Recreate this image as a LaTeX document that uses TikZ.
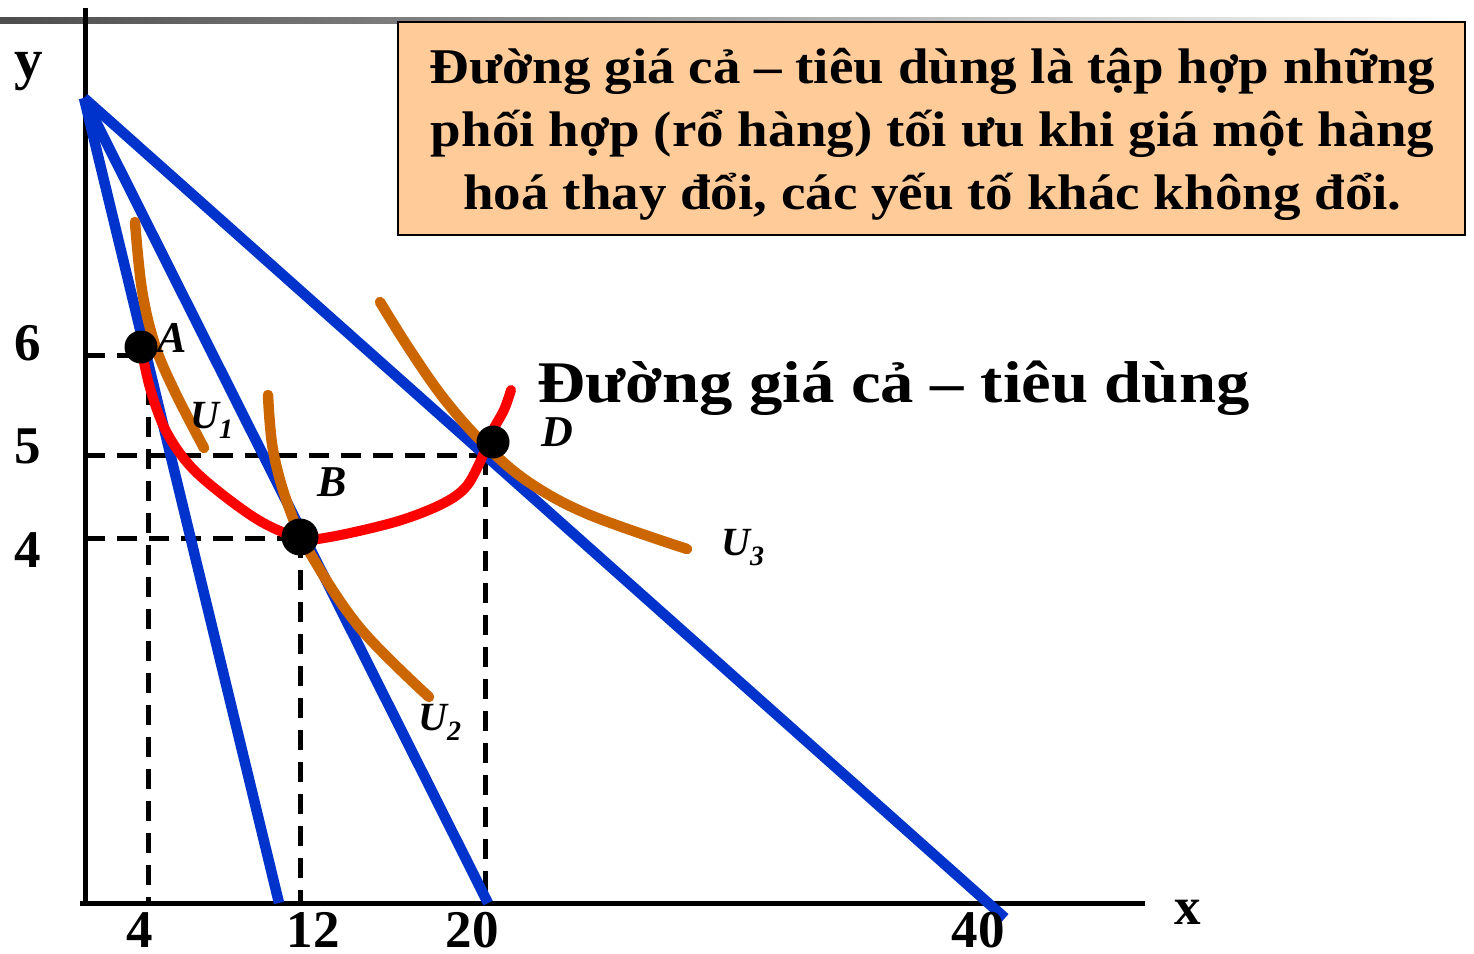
\documentclass[tikz,border=0pt]{standalone}
\usepackage{fontspec}
\setmainfont{Liberation Serif}
\definecolor{bl}{RGB}{0,51,204}
\definecolor{orc}{RGB}{204,102,0}
\definecolor{peach}{RGB}{255,204,153}
\begin{document}
\begin{tikzpicture}[x=1pt,y=-1pt,
  axis/.style={line width=5pt, draw=black},
  budget/.style={line width=10.5pt, draw=bl},
  indiff/.style={line width=10.5pt, draw=orc, line cap=round},
  pcc/.style={line width=10pt, draw=red, line cap=round, line join=round},
  guide/.style={line width=5pt, draw=black, dash pattern=on 20pt off 12pt},
  dot/.style={circle, fill=black, inner sep=0pt, minimum size=#1},
  ptlab/.style={font=\fontsize{44}{48}\selectfont\bfseries\itshape},
  ulab/.style={font=\fontsize{40}{44}\selectfont\bfseries\itshape},
  ticklab/.style={font=\fontsize{53}{56}\selectfont\bfseries, inner sep=0pt},
]
\useasboundingbox (0,0) rectangle (1474,953);
% top gradient rule
\shade[left color=black!70, right color=white] (0,17) rectangle (1474,23.5);
% axes
\coordinate (ytop) at (85,8);
\coordinate (orig) at (85,903);
\coordinate (xl) at (80,903);
\coordinate (xr) at (1145,903);
\draw[axis] (ytop) -- (orig);
\draw[axis] (xl) -- (xr);
% guide lines
\coordinate (gA) at (85,355);
\coordinate (gAr) at (140,355);
\coordinate (gAv) at (148,385);
\coordinate (gAb) at (148,903);
\coordinate (g5) at (85,455);
\coordinate (g5r) at (490,455);
\coordinate (g4) at (85,538);
\coordinate (g4r) at (300,538);
\coordinate (gBb) at (300,903);
\coordinate (gDt) at (485,455);
\coordinate (gDb) at (485,903);
\draw[guide] (gA) -- (gAr);
\draw[guide] (gAv) -- (gAb);
\draw[guide] (g5) -- (g5r);
\draw[guide] (g4) -- (g4r);
\draw[guide] (g4r) -- (gBb);
\draw[guide] (gDt) -- (gDb);
% budget lines
\coordinate (top) at (84,98);
\coordinate (b1) at (279,903);
\coordinate (b2) at (488,903);
\coordinate (b3) at (1005,918);
\draw[budget] (top) -- (b1);
\draw[budget] (top) -- (b2);
\draw[budget] (top) -- (b3);
% indifference curves
\draw[indiff] plot[smooth, tension=0.6] coordinates {(135,222) (142,290) (155,345) (175,392) (204,448)};
\draw[indiff] plot[smooth, tension=0.6] coordinates {(268,395) (273,450) (288,505) (310,553) (360,628) (429,697)};
\draw[indiff] plot[smooth, tension=0.6] coordinates {(380,302) (410,350) (445,400) (485,445) (530,483) (590,515) (687,549)};
% price-consumption curve
\draw[pcc] plot[smooth, tension=0.55] coordinates {(140,342) (150,388) (167,433) (197,473) (255,518) (300,538) (330,537) (395,522) (440,505) (465,488) (480,462) (492,432) (504,410) (511,390)};
% points
\node[dot=33pt] (A) at (141,347) {};
\node[dot=37pt] (B) at (300,537) {};
\node[dot=33pt] (D) at (493,442) {};
% labels
\node[ptlab] (lA) at (172,338) {A};
\node[ptlab] (lB) at (332,482) {B};
\node[ptlab] (lD) at (557,432) {D};
\node[ulab] (u1) at (212,420) {U\textsubscript{1}};
\node[ulab] (u2) at (440,722) {U\textsubscript{2}};
\node[ulab] (u3) at (743,548) {U\textsubscript{3}};
% axis labels
\node[ticklab, font=\fontsize{57}{60}\selectfont\bfseries] (ly) at (29,72) {y};
\node[ticklab] (l6) at (28,343) {6};
\node[ticklab] (l5) at (28,446) {5};
\node[ticklab] (l4y) at (28,550) {4};
\node[ticklab] (l4x) at (140,930) {4};
\node[ticklab] (l12) at (313,930) {12};
\node[ticklab] (l20) at (472,930) {20};
\node[ticklab] (l40) at (978,930) {40};
\node[ticklab] (lx) at (1188,912) {x};
% curve name
\node[font=\fontsize{59}{62}\selectfont\bfseries, anchor=base west, inner sep=0pt] (name) at (537,402)
  {\scalebox{1.13}[1]{Đường giá cả – tiêu dùng}};
% definition box
\node[draw=black, line width=2pt, fill=peach, minimum width=1067pt, minimum height=213pt, inner sep=0pt] (box) at (931.5,128.5) {};
\node[inner sep=0pt, font=\fontsize{50}{63}\selectfont\bfseries] (boxtext) at (932.5,133.5)
  {\scalebox{1.1}[1]{\begin{tabular}{@{}c@{}}Đường giá cả – tiêu dùng là tập hợp những\\phối hợp (rổ hàng) tối ưu khi giá một hàng\\hoá thay đổi, các yếu tố khác không đổi.\end{tabular}}};
\end{tikzpicture}
\end{document}
